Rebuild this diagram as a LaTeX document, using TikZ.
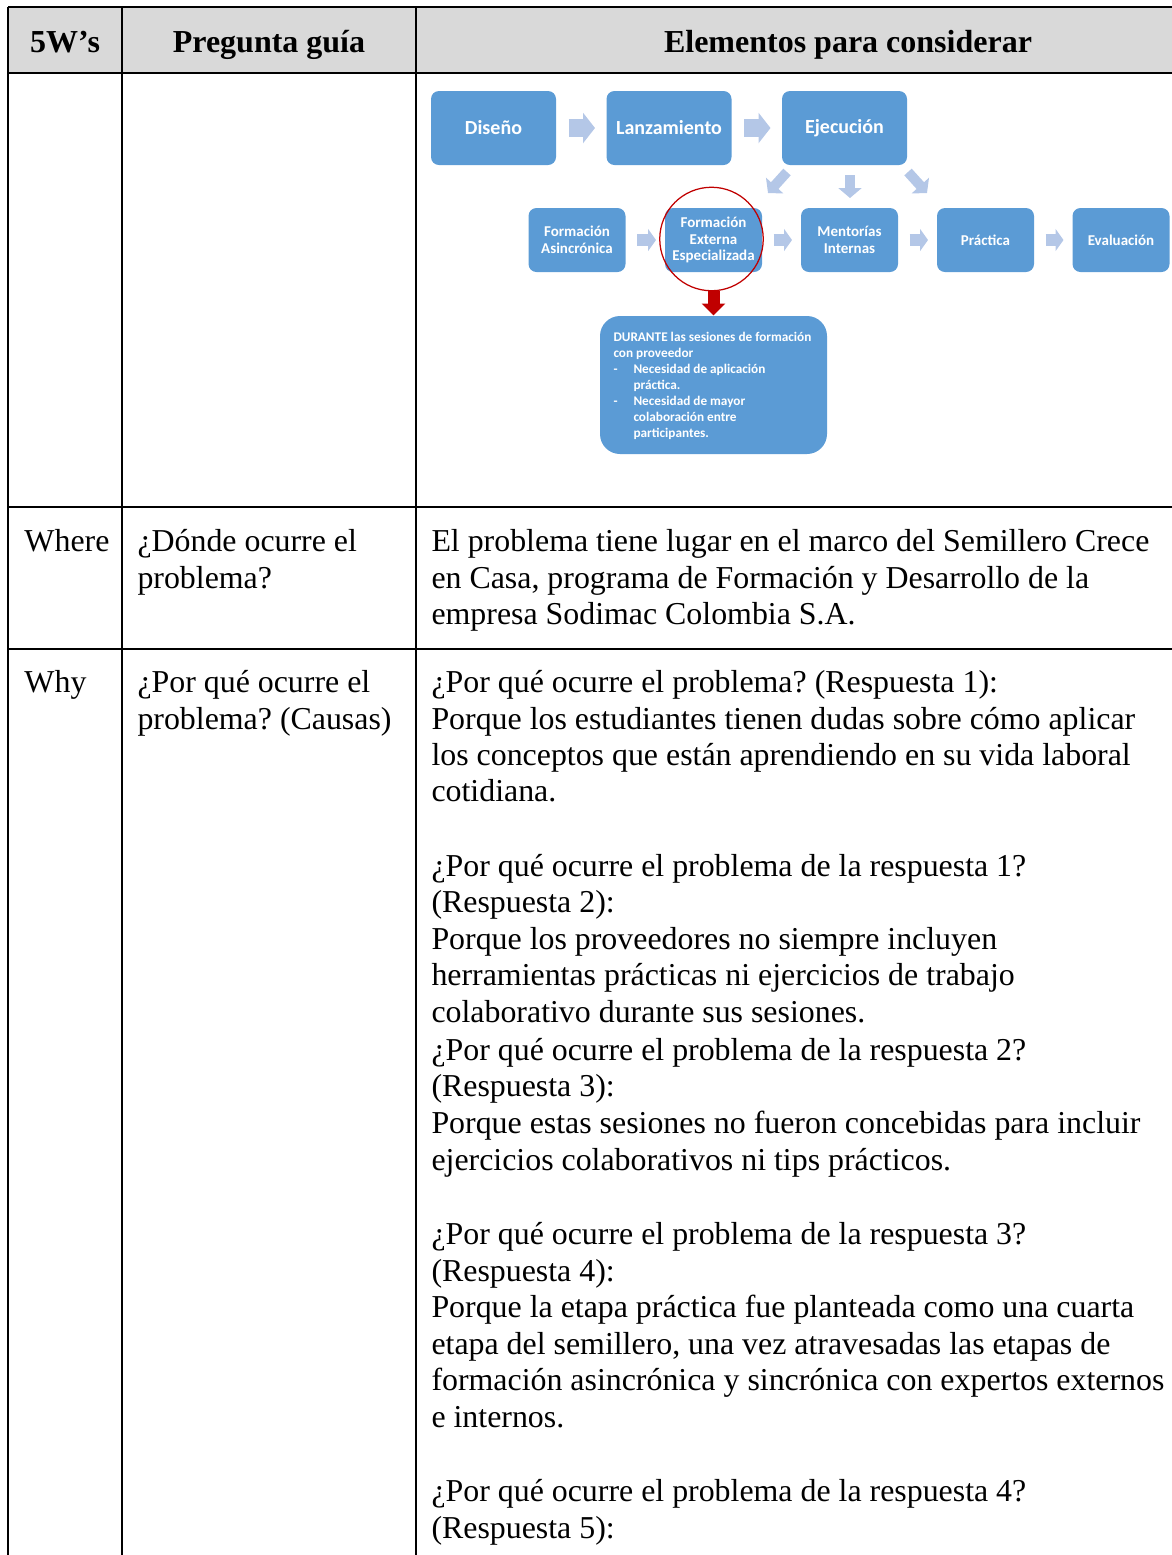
\documentclass[tikz,border=0pt]{standalone}
\usepackage{fontspec}
\setmainfont{Liberation Serif}
\newfontfamily\calibfont{Carlito}
\usetikzlibrary{arrows.meta,calc}
\definecolor{boxblue}{HTML}{5B9BD5}
\definecolor{lightarr}{HTML}{B4C7E7}
\definecolor{hdrgray}{HTML}{D9D9D9}
\definecolor{redc}{HTML}{C00000}
\frenchspacing
\tikzset{
 tline/.style={line width=0.8pt},
 body/.style={anchor=base west, inner sep=0pt, font=\fontsize{12.75}{15}\selectfont},
 hdr/.style={anchor=base, inner sep=0pt, font=\fontsize{12.8}{15}\selectfont\bfseries},
 bbox/.style={fill=boxblue, rounded corners=3.2pt, text=white, align=center, inner sep=0pt},
 bbig/.style={bbox, minimum width=50pt, minimum height=29.6pt, font=\calibfont\bfseries\fontsize{8}{9.6}\selectfont},
 bsmall/.style={bbox, minimum width=38.8pt, minimum height=25.6pt, font=\calibfont\bfseries\fontsize{6}{6.6}\selectfont},
 flowA/.style={draw=lightarr, line width=7.2pt, -{Triangle[width=12pt,length=4.8pt]}, shorten <=4.8pt, shorten >=4.4pt},
 flowB/.style={draw=lightarr, line width=4.8pt, -{Triangle[width=8.8pt,length=3.2pt]}, shorten <=4.4pt, shorten >=3.4pt},
 flowC/.style={draw=lightarr, line width=4pt, -{Triangle[width=9.2pt,length=4pt]}},
 redarrow/.style={draw=redc, line width=4.8pt, -{Triangle[width=9.2pt,length=4.8pt]}},
}
\begin{document}
\begin{tikzpicture}[x=0.4pt,y=-0.4pt]
\useasboundingbox (0,0) rectangle (1172,1555);
% table
\fill[hdrgray] (8,7) rectangle (1172,73);
\draw[tline] (8,7) -- (1172,7);
\draw[line width=1.1pt] (8,73) -- (1172,73);
\draw[tline] (8,507) -- (1172,507);
\draw[tline] (8,649) -- (1172,649);
\draw[tline] (8,7) -- (8,1555);
\draw[tline] (122,7) -- (122,1555);
\draw[tline] (416,7) -- (416,1555);
% header
\node[hdr] (h1) at (65,52) {5W’s};
\node[hdr] (h2) at (269,52) {Pregunta guía};
\node[hdr] (h3) at (848,52) {Elementos para considerar};
% Where row
\node[body] (wl) at (24,551) {Where};
\node[body] (wq1) at (137,551) {¿Dónde ocurre el};
\node[body] (wq2) at (137,588) {problema?};
\foreach \yy/\tt in {551/{El problema tiene lugar en el marco del Semillero Crece},
  588/{en Casa, programa de Formación y Desarrollo de la},
  624/{empresa Sodimac Colombia S.A.}}
  \node[body] (e\yy) at (431,\yy) {\tt};
% Why row
\node[body] (yl) at (24,692) {Why};
\node[body] (yq1) at (137,692) {¿Por qué ocurre el};
\node[body] (yq2) at (137,729) {problema? (Causas)};
\foreach \yy/\tt in {692/{¿Por qué ocurre el problema? (Respuesta 1):},
  729/{Porque los estudiantes tienen dudas sobre cómo aplicar},
  765/{los conceptos que están aprendiendo en su vida laboral},
  801/{cotidiana.},
  876/{¿Por qué ocurre el problema de la respuesta 1?},
  912/{(Respuesta 2):},
  949/{Porque los proveedores no siempre incluyen},
  985/{herramientas prácticas ni ejercicios de trabajo},
  1022/{colaborativo durante sus sesiones.},
  1060/{¿Por qué ocurre el problema de la respuesta 2?},
  1096/{(Respuesta 3):},
  1133/{Porque estas sesiones no fueron concebidas para incluir},
  1170/{ejercicios colaborativos ni tips prácticos.},
  1244/{¿Por qué ocurre el problema de la respuesta 3?},
  1281/{(Respuesta 4):},
  1317/{Porque la etapa práctica fue planteada como una cuarta},
  1354/{etapa del semillero, una vez atravesadas las etapas de},
  1390/{formación asincrónica y sincrónica con expertos externos},
  1427/{e internos.},
  1501/{¿Por qué ocurre el problema de la respuesta 4?},
  1538/{(Respuesta 5):}}
  \node[body] (r\yy) at (431,\yy) {\tt};
% diagram row 1
\node[bbig] (dis) at (493.5,128) {Diseño};
\node[bbig] (lan) at (669,128) {Lanzamiento};
\node[bbig] (eje) at (844.5,128) {Ejecución};
\draw[flowA] (dis) -- (lan);
\draw[flowA] (lan) -- (eje);
% diagram row 2
\node[bsmall] (asi) at (577,240) {Formación\\Asincrónica};
\node[bsmall] (ext) at (713.5,240) {Formación\\Externa\\Especializada};
\node[bsmall] (men) at (849.5,240) {Mentorías\\Internas};
\node[bsmall] (pra) at (985.5,240) {Práctica};
\node[bsmall] (eva) at (1121,240) {Evaluación};
\draw[flowB] (asi) -- (ext);
\draw[flowB] (ext) -- (men);
\draw[flowB] (men) -- (pra);
\draw[flowB] (pra) -- (eva);
% arrows from Ejecucion
\coordinate (d1s) at (787,172);
\coordinate (d1e) at (768,193);
\coordinate (d2s) at (850,175);
\coordinate (d2e) at (850,198);
\coordinate (d3s) at (908,172);
\coordinate (d3e) at (927,193);
\draw[flowC] (d1s) -- (d1e);
\draw[flowC] (d2s) -- (d2e);
\draw[flowC] (d3s) -- (d3e);
% red circle
\node[draw=redc, line width=0.5pt, circle, minimum size=41.4pt, inner sep=0pt] (circ) at (711.5,239) {};
% bottom box
\node[fill=boxblue, rounded corners=8pt, minimum width=90.8pt, minimum height=55.2pt, inner sep=0pt] (dur) at (713.5,385) {};
\node[anchor=north west, inner sep=0pt, text=white, align=left,
  font=\calibfont\bfseries\fontsize{5.3}{6.4}\selectfont] (durtxt) at (613,332)
  {DURANTE las sesiones de formación\\
   con proveedor\\
   \makebox[8pt][l]{-}Necesidad de aplicación\\
   \hspace*{8pt}práctica.\\
   \makebox[8pt][l]{-}Necesidad de mayor\\
   \hspace*{8pt}colaboración entre\\
   \hspace*{8pt}participantes.};
\draw[redarrow] (circ.south -| dur.north) -- (dur.north);
\end{tikzpicture}
\end{document}
